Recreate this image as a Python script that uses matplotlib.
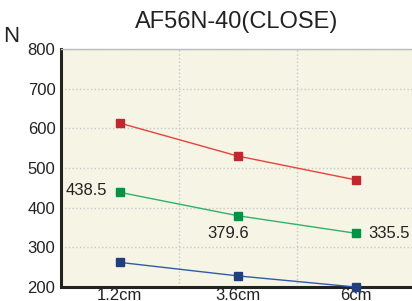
import numpy as np
import matplotlib.pyplot as plt

plt.rcParams["font.family"] = ["Liberation Sans", "DejaVu Sans"]

cats = ["1.2cm", "3.6cm", "6cm"]
red = [613, 530, 470]
green = [438.5, 379.6, 335.5]
blue = [262, 228, 200]

fig = plt.figure(figsize=(4.12, 3.01), dpi=100)
ax = fig.add_axes([0.148, 0.0465, 0.858, 0.791])
ax.set_facecolor("#f6f4e4")
x = np.arange(len(cats))

ax.plot(x, red, "-", color="#e8413c", lw=1, marker="s", ms=6, mfc="#c1272d", mec="#c1272d", clip_on=False, zorder=3)
ax.plot(x, green, "-", color="#2db36a", lw=1, marker="s", ms=6, mfc="#009245", mec="#009245", clip_on=False, zorder=3)
ax.plot(x, blue, "-", color="#2e5ca8", lw=1, marker="s", ms=6, mfc="#1f3f7f", mec="#1f3f7f", clip_on=False, zorder=3)

ax.set_xlim(-0.5, 2.5)
ax.set_ylim(200, 800)
ax.set_yticks(range(200, 801, 100))
ax.set_xticks(x)
ax.set_xticklabels(cats)
ax.set_xticks([0.5, 1.5], minor=True)
ax.grid(True, which="minor", axis="x", color="#c8c8c8", ls=":", lw=1)
ax.grid(True, which="major", axis="y", color="#c8c8c8", ls=":", lw=1)
ax.tick_params(which="both", length=0, labelsize=12, colors="#222222")
ax.tick_params(axis="x", pad=1)
ax.tick_params(axis="y", pad=4)

for s in ["left", "bottom"]:
    ax.spines[s].set_linewidth(2.2)
    ax.spines[s].set_color("#222222")
ax.spines["top"].set_color("#bbbbbb")
ax.spines["top"].set_linewidth(1)
ax.spines["right"].set_visible(False)

ax.annotate(f"{green[0]}", (x[0], green[0]), xytext=(-9, 1), textcoords="offset points",
            ha="right", va="center", fontsize=12, color="#222222")
ax.annotate(f"{green[1]}", (x[1], green[1]), xytext=(-7, -13), textcoords="offset points",
            ha="center", va="center", fontsize=12, color="#222222")
ax.annotate(f"{green[2]}", (x[2], green[2]), xytext=(9, 0), textcoords="offset points",
            ha="left", va="center", fontsize=12, color="#222222")

fig.text(0.574, 0.927, "AF56N-40(CLOSE)", ha="center", va="center", fontsize=17, color="#222222")
fig.text(0.027, 0.88, "N", ha="center", va="center", fontsize=16, color="#222222")

fig.savefig("out.png", dpi=100)
